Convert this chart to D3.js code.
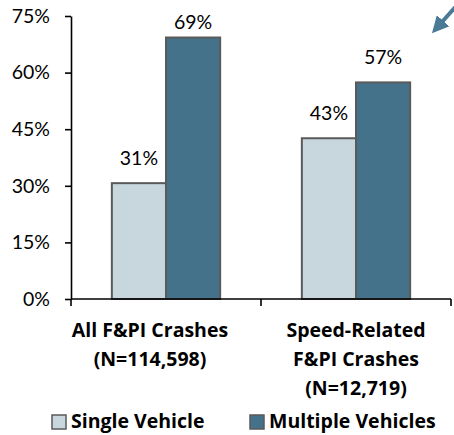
<!DOCTYPE html>
<html>
  <head>
    <meta charset="utf-8">
    <script src="https://d3js.org/d3.v7.min.js"></script>
    <style>
      body { margin: 0; background: #fff; }
      text { font-family: Lato, "Open Sans", sans-serif; fill: #000; }
      text.bold { font-family: "Open Sans", Lato, sans-serif; font-weight: bold; }
    </style>
  </head>
  <body>
    <svg width="454" height="435"></svg>
    <script>
      // chart data
      const categories = ['All F&PI Crashes', 'Speed-Related F&PI Crashes'];
      const categoryLines = [['All F&PI Crashes', '(N=114,598)'], ['Speed-Related', 'F&PI Crashes', '(N=12,719)']];
      const seriesNames = ['Single Vehicle', 'Multiple Vehicles'];
      const singleVehicle = [30.7, 42.6];
      const multipleVehicles = [69.3, 57.4];
      const yTicks = [0, 15, 30, 45, 60, 75];
      const colors = ['#c8d7de', '#44728a'];

      const svg = d3.select('svg');

      // scales
      const xScale = d3.scaleBand()
        .domain(categories)
        .range([71, 451])
        .paddingInner(0.43)
        .paddingOuter(0.215);
      const xSub = d3.scaleBand()
        .domain(seriesNames)
        .range([0, xScale.bandwidth()]);
      const yScale = d3.scaleLinear()
        .domain([0, 75])
        .range([299, 16]);

      // y axis
      const yAxis = svg.append('g')
        .attr('transform', 'translate(71,0)')
        .call(d3.axisLeft(yScale).tickValues(yTicks).tickSize(6).tickSizeOuter(0).tickPadding(15).tickFormat(d => d + '%'));
      yAxis.selectAll('path, line').attr('stroke', '#000').attr('stroke-width', 1.6);
      yAxis.selectAll('text').style('font-size', '19.5px').attr('fill', '#000');

      // bars
      const rows = categories.map((c, i) => ({ cat: c, values: [singleVehicle[i], multipleVehicles[i]] }));
      const groups = svg.selectAll('g.grp').data(rows).enter().append('g')
        .attr('class', 'grp')
        .attr('transform', d => `translate(${xScale(d.cat)},0)`);
      groups.selectAll('rect').data(d => d.values.map((v, j) => ({ v, s: seriesNames[j], j })))
        .enter().append('rect')
          .attr('x', d => xSub(d.s))
          .attr('y', d => yScale(d.v))
          .attr('width', xSub.bandwidth())
          .attr('height', d => yScale(0) - yScale(d.v))
          .attr('fill', d => colors[d.j])
          .attr('stroke', '#5a5a5a')
          .attr('stroke-width', 2);
      groups.selectAll('text.val').data(d => d.values.map((v, j) => ({ v, s: seriesNames[j] })))
        .enter().append('text')
          .attr('class', 'val')
          .attr('x', d => xSub(d.s) + xSub.bandwidth() / 2)
          .attr('y', d => Math.max(yScale(d.v) - 18, 29))
          .attr('text-anchor', 'middle')
          .style('font-size', '19.5px')
          .text(d => Math.round(d.v) + '%');

      // x axis with ticks at the category boundaries
      const gap = xScale.step() - xScale.bandwidth();
      const bounds = categories.map(c => xScale(c) - gap / 2).concat([xScale(categories[1]) + xScale.bandwidth() + gap / 2]);
      const xAxis = svg.append('g');
      xAxis.append('line')
        .attr('x1', xScale.range()[0]).attr('x2', xScale.range()[1])
        .attr('y1', yScale(0)).attr('y2', yScale(0))
        .attr('stroke', '#000').attr('stroke-width', 1.6);
      xAxis.selectAll('line.tk').data(bounds).enter().append('line')
        .attr('class', 'tk')
        .attr('x1', d => d).attr('x2', d => d)
        .attr('y1', yScale(0)).attr('y2', yScale(0) + 7)
        .attr('stroke', '#000').attr('stroke-width', 1.6);

      // category labels
      svg.selectAll('text.cat').data(categories).enter().append('text')
        .attr('class', 'cat bold')
        .attr('text-anchor', 'middle')
        .attr('x', (d, i) => xScale(d) + xScale.bandwidth() / 2 - (i === 0 ? 16 : 0))
        .attr('y', 337)
        .style('font-size', '19.5px')
        .each(function(d, i) {
          const t = d3.select(this);
          const x = t.attr('x');
          categoryLines[i].forEach((line, k) => {
            t.append('tspan').attr('x', x).attr('dy', k === 0 ? 0 : 29).text(line);
          });
        });

      // legend
      const legendX = [52, 250];
      const legend = svg.selectAll('g.leg').data(seriesNames).enter().append('g')
        .attr('class', 'leg')
        .attr('transform', (d, i) => `translate(${legendX[i]},415)`);
      legend.append('rect')
        .attr('width', 14).attr('height', 14)
        .attr('fill', (d, i) => colors[i])
        .attr('stroke', '#5a5a5a').attr('stroke-width', 1.5);
      legend.append('text')
        .attr('class', 'bold')
        .attr('x', 19).attr('y', 13)
        .style('font-size', '19.5px')
        .text(d => d);

      // arrow cut off at the top right
      svg.append('defs').append('marker')
        .attr('id', 'head')
        .attr('viewBox', '0 0 10 10')
        .attr('refX', 1).attr('refY', 5)
        .attr('markerWidth', 4.2).attr('markerHeight', 4.2)
        .attr('orient', 'auto')
        .append('path').attr('d', 'M0,0L10,5L0,10Z').attr('fill', '#4a7a96');
      svg.append('line')
        .attr('x1', 458).attr('y1', 4).attr('x2', 442).attr('y2', 22)
        .attr('stroke', '#4a7a96').attr('stroke-width', 4)
        .attr('marker-end', 'url(#head)');
    </script>
  </body>
</html>
